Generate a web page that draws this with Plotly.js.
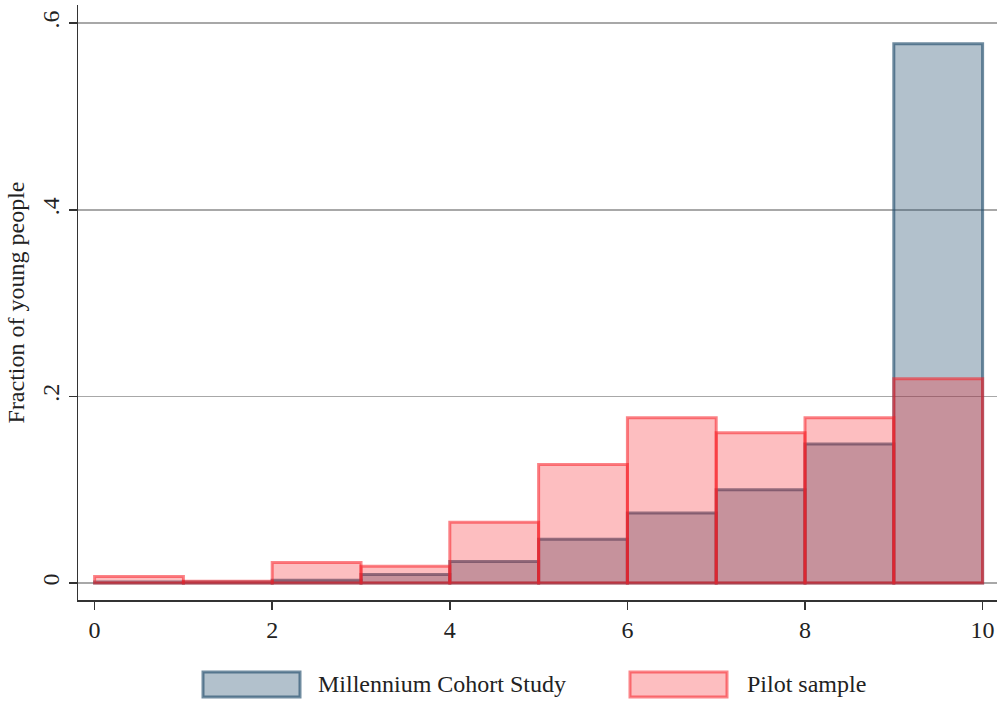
<!DOCTYPE html>
<html>
<head>
<meta charset="utf-8">
<script src="https://cdn.plot.ly/plotly-3.0.1.min.js"></script>
<style>html,body{margin:0;padding:0;background:#fff;}#chart{width:997px;height:702px;}</style>
</head>
<body>
<div id="chart"></div>
<script>
// Histogram bins (score 0-10, width 1): bin centres
const binCenters = [0.5, 1.5, 2.5, 3.5, 4.5, 5.5, 6.5, 7.5, 8.5, 9.5];
const binWidths = [1, 1, 1, 1, 1, 1, 1, 1, 1, 1];
// Fraction of young people per bin
const mcsValues = [0.001, 0.001, 0.003, 0.009, 0.023, 0.047, 0.075, 0.100, 0.149, 0.578];
const pilotValues = [0.007, 0.002, 0.022, 0.018, 0.065, 0.127, 0.177, 0.161, 0.177, 0.219];
const seriesNames = ["Millennium Cohort Study", "Pilot sample"];
const xTicks = [0, 2, 4, 6, 8, 10];
const yTicks = [0, 0.2, 0.4, 0.6];
const yTickText = ["0", ".2", ".4", ".6"];

const FONT = "Liberation Serif, Times New Roman, serif";
const mcsFill = "rgba(35,78,109,0.35)";
const mcsLine = "rgba(35,78,109,0.65)";
const pilotFill = "rgba(248,31,38,0.29)";
const pilotLine = "rgba(248,31,38,0.55)";

const traces = [
  {type: "bar", name: seriesNames[0], x: binCenters, y: mcsValues, width: binWidths,
   marker: {color: mcsFill, line: {color: mcsLine, width: 3}}, showlegend: false, hoverinfo: "x+y"},
  {type: "bar", name: seriesNames[1], x: binCenters, y: pilotValues, width: binWidths,
   marker: {color: pilotFill, line: {color: pilotLine, width: 3}}, showlegend: false, hoverinfo: "x+y"}
];

const L = 78, W = 919, B = 600, H = 595;
function px(x){ return (x - L) / W; }
function py(y){ return (B - y) / H; }

const layout = {
  width: 997, height: 702,
  margin: {l: L, r: 0, t: 5, b: 102},
  paper_bgcolor: "#ffffff", plot_bgcolor: "#ffffff",
  barmode: "overlay", bargap: 0,
  font: {family: FONT, size: 24, color: "#222"},
  xaxis: {
    range: [-0.187, 10.162], tickvals: xTicks, ticks: "outside", ticklen: 8, tickwidth: 1.5,
    tickcolor: "#333", showline: true, linecolor: "#333", linewidth: 1.5, showgrid: false,
    zeroline: false, tickfont: {family: FONT, size: 24, color: "#222"}
  },
  yaxis: {
    range: [-0.0182, 0.6195], tickvals: yTicks, ticktext: yTickText, tickangle: -90,
    ticks: "outside", ticklen: 8, tickwidth: 1.5, tickcolor: "#333",
    showline: true, linecolor: "#333", linewidth: 1.5,
    showgrid: true, gridcolor: "#a8a8a8", gridwidth: 1.5, zeroline: false,
    tickfont: {family: FONT, size: 24, color: "#222"},
    title: {text: "Fraction of young people", font: {family: FONT, size: 24, color: "#222"}, standoff: 6}
  },
  shapes: [
    {type: "rect", xref: "paper", yref: "paper", x0: px(203), x1: px(300), y0: py(697), y1: py(672),
     fillcolor: mcsFill, line: {color: mcsLine, width: 3}},
    {type: "rect", xref: "paper", yref: "paper", x0: px(630), x1: px(727), y0: py(697), y1: py(672),
     fillcolor: pilotFill, line: {color: pilotLine, width: 3}}
  ],
  annotations: [
    {xref: "paper", yref: "paper", x: px(316), y: py(684), xanchor: "left", yanchor: "middle",
     text: seriesNames[0], showarrow: false, font: {family: FONT, size: 24, color: "#222"}},
    {xref: "paper", yref: "paper", x: px(745), y: py(684), xanchor: "left", yanchor: "middle",
     text: seriesNames[1], showarrow: false, font: {family: FONT, size: 24, color: "#222"}}
  ]
};

Plotly.newPlot("chart", traces, layout, {displayModeBar: false, staticPlot: true});
</script>
</body>
</html>
